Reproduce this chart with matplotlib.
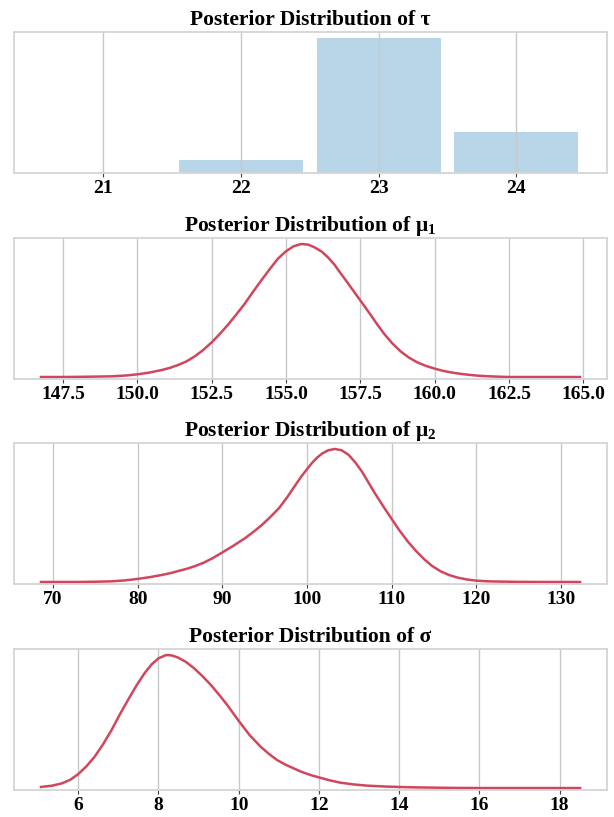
import matplotlib.pyplot as plt

plt.rcParams['font.family'] = ['Liberation Serif', 'DejaVu Serif']
plt.rcParams['font.weight'] = 'bold'
plt.rcParams['mathtext.fontset'] = 'custom'
plt.rcParams['mathtext.rm'] = 'Liberation Serif:bold'
plt.rcParams['mathtext.it'] = 'Liberation Serif:bold'
plt.rcParams['mathtext.bf'] = 'Liberation Serif:bold'

# posterior of tau (discrete)
tau_vals = [21, 22, 23, 24]
tau_prob = [0.0, 0.07, 0.715, 0.215]

# posterior densities (relative height)
mu1_x = [146.76, 147.5, 148.3, 149.13, 149.6, 150.0, 150.4, 150.81, 151.1, 151.37,
         151.65, 151.93, 152.2, 152.5, 152.78, 153.05, 153.33, 153.61, 153.89, 154.17,
         154.45, 154.73, 155.0, 155.25, 155.51, 155.75, 155.96, 156.2, 156.41, 156.63,
         156.85, 157.02, 157.19, 157.35, 157.5, 157.68, 157.86, 158.08, 158.3, 158.58,
         158.86, 159.14, 159.42, 159.7, 160.0, 160.27, 160.54, 160.8, 161.09, 161.4,
         161.76, 162.1, 162.5, 163.7, 164.89]
mu1_y = [0.0, 0.0, 0.002, 0.005, 0.011, 0.02, 0.033, 0.052, 0.069, 0.09,
         0.117, 0.155, 0.2, 0.26, 0.325, 0.393, 0.47, 0.55, 0.64, 0.726,
         0.81, 0.89, 0.945, 0.982, 1.0, 0.995, 0.975, 0.943, 0.90, 0.845,
         0.776, 0.725, 0.672, 0.622, 0.576, 0.52, 0.463, 0.392, 0.325, 0.252,
         0.192, 0.145, 0.11, 0.084, 0.063, 0.047, 0.035, 0.026, 0.018, 0.011,
         0.006, 0.003, 0.0, 0.0, 0.0]

mu2_x = [68.58, 71.0, 73.0, 75.0, 76.9, 78.5, 80.0, 81.5, 82.86, 83.9,
         84.83, 85.8, 86.8, 87.8, 88.8, 90.0, 91.3, 92.7, 93.7, 94.7,
         95.7, 96.7, 97.7, 98.6, 99.3, 100.0, 100.6, 101.2, 101.8, 102.5,
         103.3, 104.1, 104.9, 105.7, 106.5, 107.2, 108.0, 109.0, 110.0, 110.9,
         111.9, 112.9, 113.9, 114.8, 115.8, 116.8, 117.8, 118.9, 120.0, 121.4,
         122.9, 125.0, 128.0, 132.26]
mu2_y = [0.0, 0.0, 0.0, 0.002, 0.005, 0.012, 0.023, 0.037, 0.053, 0.067,
         0.083, 0.099, 0.12, 0.145, 0.177, 0.222, 0.272, 0.33, 0.378, 0.43,
         0.49, 0.555, 0.64, 0.725, 0.79, 0.848, 0.895, 0.935, 0.966, 0.99,
         1.0, 0.99, 0.957, 0.90, 0.83, 0.755, 0.67, 0.57, 0.475, 0.39,
         0.305, 0.232, 0.168, 0.12, 0.08, 0.052, 0.033, 0.019, 0.01, 0.005,
         0.003, 0.001, 0.0, 0.0]

sigma_x = [5.07, 5.35, 5.59, 5.8, 6.0, 6.2, 6.41, 6.62, 6.83, 7.03,
           7.24, 7.45, 7.65, 7.83, 8.0, 8.19, 8.33, 8.48, 8.69, 8.89,
           9.1, 9.31, 9.52, 9.72, 10.0, 10.28, 10.55, 10.76, 10.96, 11.17,
           11.37, 11.54, 11.79, 12.0, 12.27, 12.54, 12.87, 13.2, 13.6, 14.0,
           14.4, 14.86, 15.4, 16.0, 18.51]
sigma_y = [0.008, 0.018, 0.035, 0.062, 0.105, 0.162, 0.236, 0.33, 0.436, 0.55,
           0.662, 0.77, 0.862, 0.93, 0.975, 1.0, 0.997, 0.982, 0.947, 0.90,
           0.84, 0.774, 0.698, 0.622, 0.505, 0.395, 0.31, 0.255, 0.21, 0.175,
           0.148, 0.125, 0.098, 0.08, 0.058, 0.04, 0.027, 0.018, 0.012, 0.008,
           0.005, 0.003, 0.001, 0.0, 0.0]

line_color = '#d1465c'
bar_color = '#b8d6e8'

fig = plt.figure(figsize=(6.14, 8.17), dpi=100)
bottoms = [0.7882, 0.5361, 0.2852, 0.0330]
axes = [fig.add_axes([0.0228, b, 0.9658, 0.1726]) for b in bottoms]

titles = ['Posterior Distribution of τ',
          'Posterior Distribution of μ$_1$',
          'Posterior Distribution of μ$_2$',
          'Posterior Distribution of σ']

for ax, t in zip(axes, titles):
    ax.set_title(t, fontsize=15.5, fontweight='bold', pad=5)
    ax.set_yticks([])
    ax.grid(True, axis='x', color='#c8c8c8', linewidth=1.0)
    ax.set_axisbelow(True)
    for s in ax.spines.values():
        s.set_color('#d4d4d4')
        s.set_linewidth(1.3)
    ax.tick_params(axis='x', length=3, width=0.8, color='#444444', labelsize=14, pad=2)

# tau
ax = axes[0]
ax.bar(tau_vals, tau_prob, width=0.9, color=bar_color, zorder=0.5)
ax.set_xticks(tau_vals)
ax.set_xlim(20.35, 24.66)
ax.set_ylim(0, max(tau_prob) * 1.045)

curves = [(mu1_x, mu1_y, [147.5, 150.0, 152.5, 155.0, 157.5, 160.0, 162.5, 165.0], '{:.1f}'),
          (mu2_x, mu2_y, [70, 80, 90, 100, 110, 120, 130], '{:d}'),
          (sigma_x, sigma_y, [6, 8, 10, 12, 14, 16, 18], '{:d}')]

for ax, (x, y, ticks, fmt) in zip(axes[1:], curves):
    ax.plot(x, y, color=line_color, linewidth=1.8, solid_joinstyle='round')
    ax.set_xticks(ticks)
    ax.set_xticklabels([fmt.format(v) for v in ticks])
    pad = (max(x) - min(x)) * 0.05
    ax.set_xlim(min(x) - pad, max(x) + pad)
    ax.set_ylim(-0.015, 1.045)

for ax in axes:
    for lab in ax.get_xticklabels():
        lab.set_fontweight('bold')

fig.savefig('out.png', dpi=100)
